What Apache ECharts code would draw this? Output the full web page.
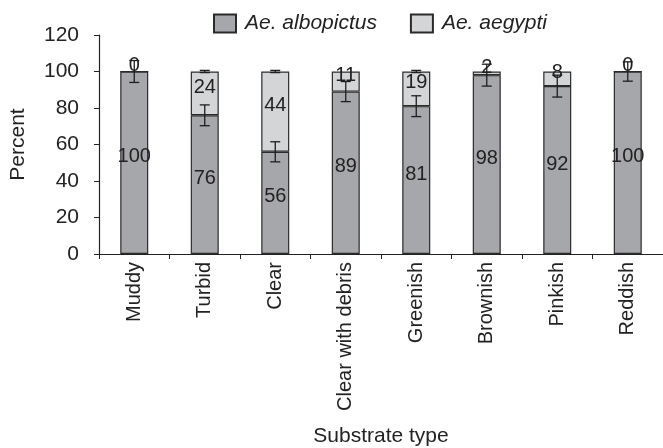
<!DOCTYPE html>
<html>
<head>
<meta charset="utf-8">
<script src="https://cdn.jsdelivr.net/npm/echarts@6/dist/echarts.min.js"></script>
<style>
  html, body { margin: 0; padding: 0; background: #ffffff; }
  #chart { width: 663px; height: 448px; }
</style>
</head>
<body>
<div id="chart"></div>
<script>
// Substrate types on the x axis
const categories = ['Muddy', 'Turbid', 'Clear', 'Clear with debris', 'Greenish', 'Brownish', 'Pinkish', 'Reddish'];
// Percent of each species per substrate
const albopictus = [100, 76, 56, 89, 81, 98, 92, 100];
const aegypti = [0, 24, 44, 11, 19, 2, 8, 0];
// Error bar half-lengths (percent)
const albopictusErr = [6, 5.7, 5.5, 5.5, 5.7, 6, 6, 5.3];
const aegyptiErr = [0, 0.6, 0.6, 0, 0.6, 0, 0, 0];
// Y axis ticks
const yTicks = [0, 20, 40, 60, 80, 100, 120];

const textColor = '#222222';
const fontFamily = '"Liberation Sans", Arial, sans-serif';

function errorBarSeries(name, base, err) {
  return {
    name: name,
    type: 'custom',
    z: 5,
    silent: true,
    data: categories.map((c, i) => [i, base[i], err[i]]),
    renderItem: function (params, api) {
      const idx = api.value(0);
      const v = api.value(1);
      const e = api.value(2);
      if (!e) return null;
      const hi = api.coord([idx, v + e]);
      const lo = api.coord([idx, v - e]);
      const half = 5;
      const style = { stroke: '#1e1e1e', lineWidth: 1.3 };
      return {
        type: 'group',
        children: [
          { type: 'line', shape: { x1: hi[0], y1: hi[1], x2: lo[0], y2: lo[1] }, style: style },
          { type: 'line', shape: { x1: hi[0] - half, y1: hi[1], x2: hi[0] + half, y2: hi[1] }, style: style },
          { type: 'line', shape: { x1: lo[0] - half, y1: lo[1], x2: lo[0] + half, y2: lo[1] }, style: style }
        ]
      };
    }
  };
}

const totals = albopictus.map((v, i) => v + aegypti[i]);

const labelStyle = {
  show: true,
  position: 'inside',
  offset: [0, -6],
  formatter: '{c}',
  fontSize: 20,
  fontFamily: fontFamily,
  color: textColor,
  textBorderWidth: 0
};

const chart = echarts.init(document.getElementById('chart'), null, { renderer: 'canvas' });

chart.setOption({
  animation: false,
  backgroundColor: '#ffffff',
  textStyle: { fontFamily: fontFamily, color: textColor },
  legend: {
    left: 213,
    top: 13,
    padding: 0,
    itemWidth: 22,
    itemHeight: 18,
    itemGap: 33,
    data: [
      { name: 'Ae. albopictus', icon: 'rect' },
      { name: 'Ae. aegypti', icon: 'rect' }
    ],
    textStyle: { fontSize: 21, fontStyle: 'italic', color: textColor, fontFamily: fontFamily, padding: [0, 0, 0, 4] }
  },
  grid: { left: 98, top: 35, width: 573, height: 219, containLabel: false },
  xAxis: {
    type: 'category',
    data: categories,
    name: 'Substrate type',
    nameLocation: 'middle',
    nameGap: 172,
    nameTextStyle: { fontSize: 21, color: textColor, fontFamily: fontFamily },
    axisLine: { lineStyle: { color: '#222', width: 1.2 } },
    axisTick: { show: true, length: 5, lineStyle: { color: '#222' } },
    axisLabel: { rotate: 90, fontSize: 20, color: textColor, margin: 8, fontFamily: fontFamily }
  },
  yAxis: {
    type: 'value',
    min: yTicks[0],
    max: yTicks[yTicks.length - 1],
    interval: 20,
    name: 'Percent',
    nameLocation: 'middle',
    nameGap: 70,
    nameTextStyle: { fontSize: 21, color: textColor, fontFamily: fontFamily },
    axisLine: { show: true, lineStyle: { color: '#222', width: 1.2 } },
    axisTick: { show: true, length: 5, lineStyle: { color: '#222' } },
    axisLabel: { fontSize: 21, color: textColor, margin: 20, fontFamily: fontFamily },
    splitLine: { show: false }
  },
  series: [
    {
      name: 'Ae. albopictus',
      type: 'bar',
      stack: 'total',
      barWidth: 28,
      data: albopictus,
      itemStyle: { color: '#a6a7aa', borderColor: '#2b2b2b', borderWidth: 1.2 },
      label: labelStyle
    },
    {
      name: 'Ae. aegypti',
      type: 'bar',
      stack: 'total',
      barWidth: 28,
      data: aegypti,
      itemStyle: { color: '#d4d5d7', borderColor: '#2b2b2b', borderWidth: 1.2 },
      label: labelStyle
    },
    errorBarSeries('albopictus error', albopictus, albopictusErr),
    errorBarSeries('aegypti error', totals, aegyptiErr)
  ]
});
</script>
</body>
</html>
